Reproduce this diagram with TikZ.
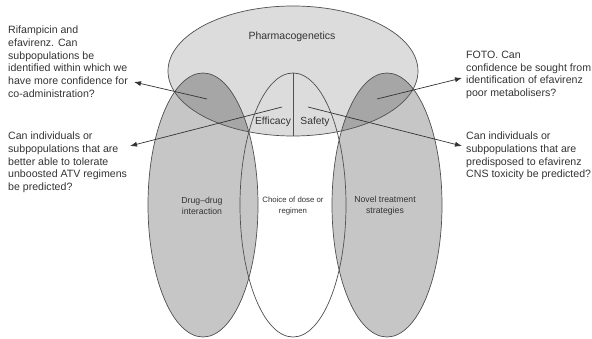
\documentclass[tikz,border=0pt]{standalone}
\usepackage{fontspec}
\setmainfont{Liberation Sans}
\usepackage{xcolor}
\definecolor{vennline}{HTML}{505050}
\definecolor{venngray}{HTML}{C6C6C6}
\definecolor{vennlight}{HTML}{DCDCDC}
\definecolor{venndark}{HTML}{A6A6A6}
\definecolor{inktext}{HTML}{333333}
\usetikzlibrary{arrows.meta}

% outlines of the five areas
\def\pgpath{(293,71) ellipse [x radius=125pt, y radius=65pt]}
\def\ddipath{(203,205) ellipse [x radius=55pt, y radius=132pt]}
\def\dosepath{(293,205) ellipse [x radius=53pt, y radius=132pt]}
\def\ntspath{(387,205) ellipse [x radius=55pt, y radius=132pt]}

\begin{document}
\begin{tikzpicture}[
  x=1pt, y=-1pt,
  question/.style={anchor=north west, align=left, inner sep=0pt, text=inktext,
    font=\fontsize{10.6}{12.7}\selectfont},
  topic/.style={align=center, inner sep=0pt, text=inktext,
    font=\fontsize{8.7}{10.7}\selectfont},
  outline/.style={draw=vennline, line width=0.7pt},
  arr/.style={-{Latex[length=7pt,width=5pt]}, draw=inktext, line width=0.7pt}
]
\useasboundingbox (0,0) rectangle (592,339);
% Fills
\fill[white] \dosepath;
\fill[venngray] \ddipath;
\fill[venngray] \ntspath;
\fill[vennlight] \pgpath;
\begin{scope}
  \clip \pgpath;
  \fill[venndark] \ddipath;
  \fill[venndark] \ntspath;
\end{scope}
% Outlines
\draw[outline] \dosepath;
\draw[outline] \ddipath;
\draw[outline] \ntspath;
\draw[outline] \pgpath;
\coordinate (midtop) at (293,73);
\coordinate (pgbot) at (293,136);
\draw[outline] (midtop) -- (pgbot);
% Area labels
\node[topic, font=\fontsize{10.5}{12}\selectfont] (pgx) at (292,37) {Pharmacogenetics};
\node[topic, font=\fontsize{10.3}{12}\selectfont] (eff) at (273,122) {Efficacy};
\node[topic, font=\fontsize{10.3}{12}\selectfont] (saf) at (315,122) {Safety};
\node[topic] (ddi) at (202,206) {Drug--drug\\interaction};
\node[topic, font=\fontsize{7.8}{10.7}\selectfont] (dose) at (293,206) {Choice of dose or\\regimen};
\node[topic] (nts) at (385,206) {Novel treatment\\strategies};
% Questions
\node[question] (rif) at (8,26) {Rifampicin and\\efavirenz. Can\\subpopulations be\\identified within which we\\have more confidence for\\co-administration?};
\node[question] (atv) at (8,132) {Can individuals or\\subpopulations that are\\better able to tolerate\\unboosted ATV regimens\\be predicted?};
\node[question] (foto) at (466,51) {FOTO. Can\\confidence be sought from\\identification of efavirenz\\poor metabolisers?};
\node[question] (cns) at (466,132) {Can individuals or\\subpopulations that are\\predisposed to efavirenz\\CNS toxicity be predicted?};
% Arrows
\coordinate (ddipt) at (207,99);
\coordinate (effpt) at (282,107);
\coordinate (ntspt) at (377,99);
\coordinate (safpt) at (308,107);
\coordinate (riftip) at (134,82);
\coordinate (atvtip) at (130,146);
\coordinate (fototip) at (462,78);
\coordinate (cnstip) at (462,146);
\draw[arr] (ddipt) -- (riftip);
\draw[arr] (effpt) -- (atvtip);
\draw[arr] (ntspt) -- (fototip);
\draw[arr] (safpt) -- (cnstip);
\end{tikzpicture}
\end{document}
